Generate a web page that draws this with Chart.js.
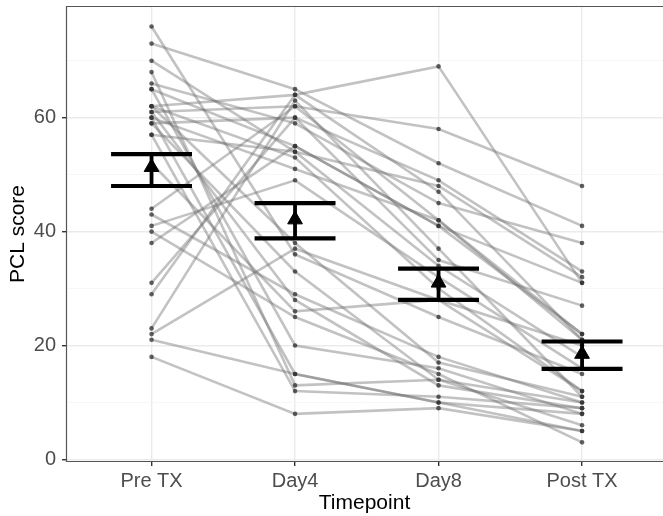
<!DOCTYPE html>
<html>
<head>
<meta charset="utf-8">
<script src="https://cdn.jsdelivr.net/npm/chart.js@4.4.1/dist/chart.umd.min.js"></script>
<style>
  html, body { margin: 0; padding: 0; background: #fff; }
</style>
</head>
<body>
<canvas id="pclChart" width="663" height="516"></canvas>
<script>
// categories on the x axis
const timepoints = ['Pre TX', 'Day4', 'Day8', 'Post TX'];

// one entry per participant, same order in every list
const preTx  = [76, 73, 70, 68, 66, 65, 65, 62, 62, 62, 61, 61, 60, 60, 59, 59, 57, 57, 52, 44, 43, 41, 40, 38, 31, 29, 23, 22, 21, 18];
const day4   = [36, 65, 54, 13, 59, 20, 55, 64, 38, 53, 62, 28, 51, 15, 60, 33, 54, 12, 26, 62, 29, 49, 25, 55, 60, 64, 63, 37, 15, 8];
const day8   = [25, 52, 48, 14, 45, 16, 41, 69, 17, 30, 58, 13, 42, 10, 49, 14, 34, 11, 28, 42, 18, 32, 15, 41, 35, 47, 37, 28, 10, 9];
const postTx = [15, 41, 32, 10, 38, 8, 22, 31, 11, 12, 48, 9, 21, 5, 33, 6, 18, 9, 20, 22, 10, 16, 3, 31, 27, 21, 11, 12, 8, 5];

// group summary (mean and bar ends)
const meanScore = [51.3, 42.1, 31.0, 18.5];
const barLow    = [48.0, 38.8, 28.0, 15.9];
const barHigh   = [53.6, 45.0, 33.5, 20.7];

const yTicks = [0, 10, 20, 30, 40, 50, 60, 70];
const capHalf = 0.282;

var datasets = [];

// participant lines
for (var i = 0; i < preTx.length; i++) {
  const vals = [preTx[i], day4[i], day8[i], postTx[i]];
  datasets.push({
    data: vals.map((v, k) => ({ x: k + 1, y: v })),
    showLine: true,
    borderColor: 'rgba(110, 110, 110, 0.42)',
    borderWidth: 2.6,
    pointRadius: 2.3,
    pointBackgroundColor: 'rgba(45, 45, 45, 0.75)',
    pointBorderWidth: 0,
    order: 2
  });
}

// error bars: stem + caps, then the mean triangle
timepoints.forEach((t, k) => {
  const x = k + 1;
  datasets.push({
    data: [{ x: x, y: barLow[k] }, { x: x, y: barHigh[k] }],
    showLine: true, borderColor: '#000', borderWidth: 3.8, pointRadius: 0, order: 1
  });
  datasets.push({
    data: [{ x: x - capHalf, y: barLow[k] }, { x: x + capHalf, y: barLow[k] }],
    showLine: true, borderColor: '#000', borderWidth: 4.2, pointRadius: 0, order: 1
  });
  datasets.push({
    data: [{ x: x - capHalf, y: barHigh[k] }, { x: x + capHalf, y: barHigh[k] }],
    showLine: true, borderColor: '#000', borderWidth: 4.2, pointRadius: 0, order: 1
  });
});
datasets.push({
  data: meanScore.map((v, k) => ({ x: k + 1, y: v })),
  pointStyle: 'triangle',
  pointRadius: 8.5,
  pointBackgroundColor: '#000',
  pointBorderColor: '#000',
  pointBorderWidth: 1,
  order: 0
});

// ggplot-like panel border (left, top, bottom; right side is cut off)
const panelBorder = {
  id: 'panelBorder',
  afterDraw(chart) {
    const { ctx, chartArea: a } = chart;
    ctx.save();
    ctx.strokeStyle = '#555';
    ctx.lineWidth = 1.2;
    ctx.beginPath();
    ctx.moveTo(a.right, a.top + 0.5);
    ctx.lineTo(a.left + 0.5, a.top + 0.5);
    ctx.lineTo(a.left + 0.5, a.bottom - 0.5);
    ctx.lineTo(a.right, a.bottom - 0.5);
    ctx.stroke();
    ctx.restore();
  }
};

const tickFont = { family: 'Liberation Sans, Arial, sans-serif', size: 20 };
const titleFont = { family: 'Liberation Sans, Arial, sans-serif', size: 21 };

new Chart(document.getElementById('pclChart'), {
  type: 'scatter',
  data: { datasets: datasets },
  plugins: [panelBorder],
  options: {
    responsive: false,
    animation: false,
    layout: { autoPadding: false, padding: { top: 6, left: 0, right: 0, bottom: 0 } },
    plugins: { legend: { display: false }, tooltip: { enabled: false } },
    scales: {
      x: {
        type: 'linear',
        min: 0.404,
        max: 4.564,
        afterBuildTicks: (scale) => { scale.ticks = [1, 2, 3, 4].map(v => ({ value: v })); },
        afterFit: (scale) => {
          scale.height = 54;
          scale.paddingLeft = 0;
          scale.paddingRight = 0;
        },
        ticks: {
          callback: (v) => timepoints[v - 1],
          color: '#4d4d4d',
          font: tickFont,
          padding: 3,
          maxRotation: 0,
          autoSkip: false
        },
        grid: { color: '#ebebeb', lineWidth: 1.4, tickColor: '#333', tickLength: 4 },
        border: { display: false },
        title: { display: true, text: 'Timepoint', color: '#000', font: titleFont, padding: { top: 0, bottom: 0 } }
      },
      y: {
        min: -0.45,
        max: 79.6,
        afterBuildTicks: (scale) => { scale.ticks = yTicks.map(v => ({ value: v })); },
        afterFit: (scale) => {
          scale.width = 66;
          scale.paddingTop = 0;
          scale.paddingBottom = 0;
        },
        ticks: {
          callback: (v) => (v % 20 === 0 ? v : ''),
          color: '#4d4d4d',
          font: tickFont,
          padding: 6
        },
        grid: {
          color: (c) => (c.tick && c.tick.value % 20 === 0 ? '#ebebeb' : '#f5f5f5'),
          lineWidth: (c) => (c.tick && c.tick.value % 20 === 0 ? 1.4 : 0.8),
          tickColor: (c) => (c.tick && c.tick.value % 20 === 0 ? '#333' : 'rgba(0,0,0,0)'),
          tickLength: 4
        },
        border: { display: false },
        title: { display: true, text: 'PCL score', color: '#000', font: titleFont, padding: { top: 6, bottom: 0 } }
      }
    }
  }
});
</script>
</body>
</html>
